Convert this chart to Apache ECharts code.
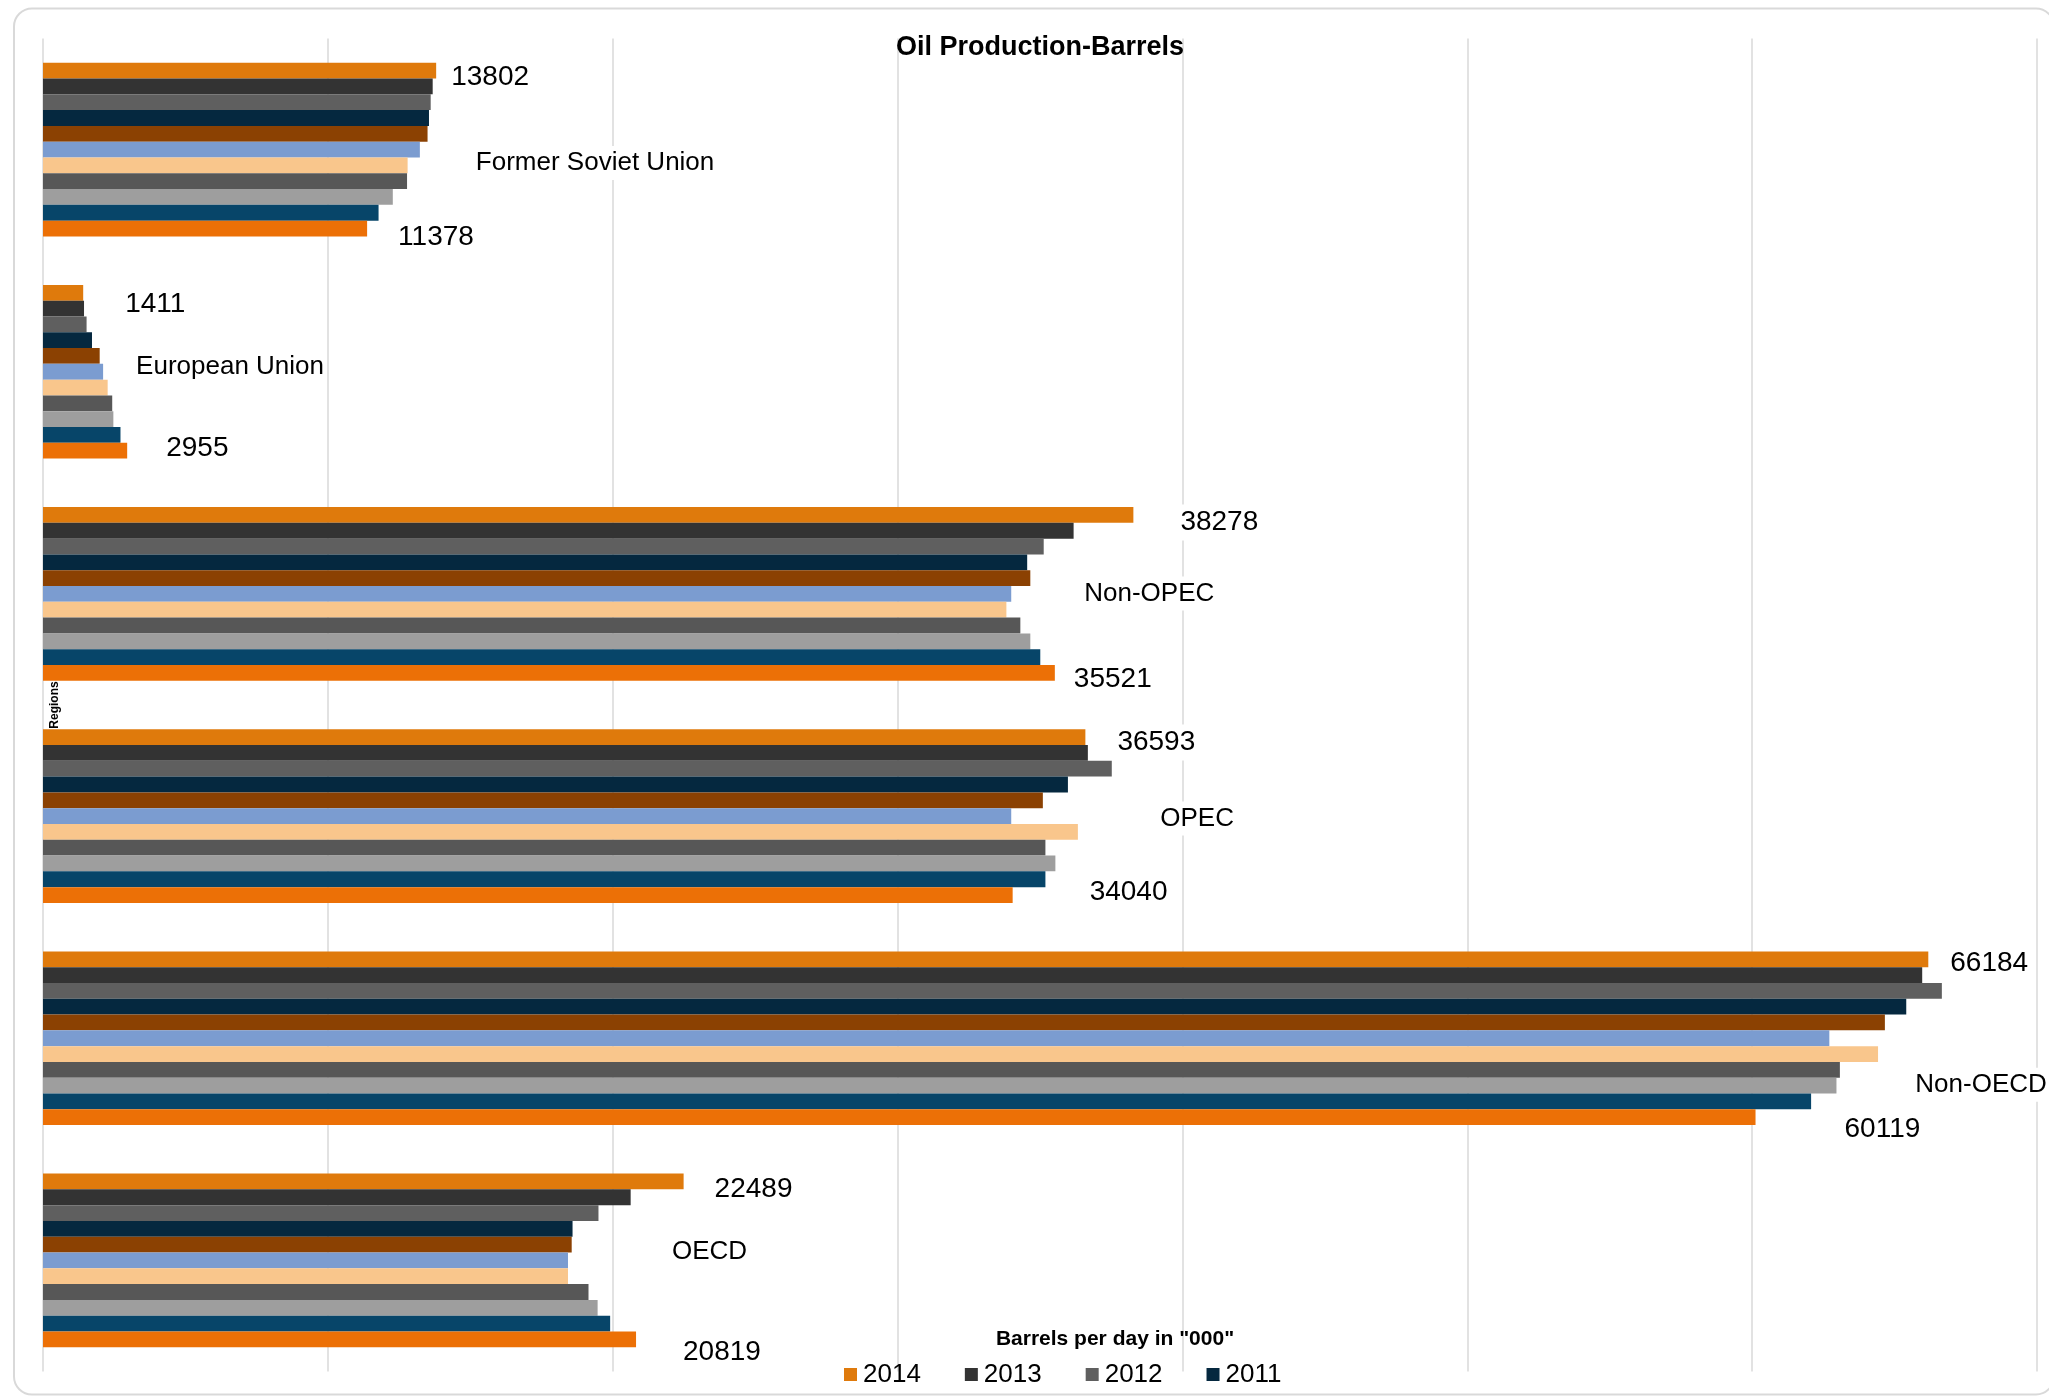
<!DOCTYPE html>
<html>
<head>
<meta charset="utf-8">
<script src="https://cdn.jsdelivr.net/npm/echarts@6/dist/echarts.min.js"></script>
<style>
html,body{margin:0;padding:0;background:#ffffff;}
#chart{width:2049px;height:1396px;}
</style>
</head>
<body>
<div id="chart"></div>
<script>
// ---- data (thousand barrels per day) ----
const categories = ['Former Soviet Union', 'European Union', 'Non-OPEC', 'OPEC', 'Non-OECD', 'OECD'];
const years = ['2014', '2013', '2012', '2011', '2010', '2009', '2008', '2007', '2006', '2005', '2004'];
const legendYears = ['2014', '2013', '2012', '2011'];
const v2014 = [13802, 1411, 38278, 36593, 66184, 22489];
const v2013 = [13680, 1440, 36180, 36680, 65970, 20630];
const v2012 = [13610, 1530, 35130, 37520, 66660, 19500];
const v2011 = [13550, 1720, 34550, 35980, 65410, 18590];
const v2010 = [13500, 1990, 34660, 35100, 64660, 18560];
const v2009 = [13230, 2110, 33990, 33990, 62710, 18430];
const v2008 = [12800, 2270, 33820, 36330, 64420, 18430];
const v2007 = [12780, 2430, 34310, 35190, 63080, 19150];
const v2006 = [12280, 2470, 34660, 35540, 62960, 19470];
const v2005 = [11780, 2720, 35010, 35190, 62070, 19910];
const v2004 = [11378, 2955, 35521, 34040, 60119, 20819];
const seriesValues = [v2014, v2013, v2012, v2011, v2010, v2009, v2008, v2007, v2006, v2005, v2004];

// ---- styles ----
const colors = ['#DF7A0C', '#333333', '#5F5F5F', '#05283F', '#8B4102', '#7B9CD0',
                '#F9C68C', '#575757', '#9E9E9E', '#074569', '#EC7006'];
const FONT = '"Liberation Sans", Arial, sans-serif';
// label offsets [dx, dy] per category (style/placement only)
const topLabelOffset    = [[12, 6.5], [39, 11.5], [44, 7.5], [29, 5.5], [19, 4.5], [28, 7.5]];
const bottomLabelOffset = [[28, 8.5], [36, -2.5], [16, 6.5], [74, -2.5], [86, 12.5], [44, 12.5]];
const nameLabelOffset   = [[53, 13.5], [30, -4.5], [70, -0.5], [146, 2.5], [83, 46.5], [101, -8.5]];

const numLabel = {
  show: true, position: 'right', distance: 0, formatter: '{c}',
  color: '#000', fontFamily: FONT, fontSize: 28,
  backgroundColor: '#ffffff', padding: [4, 3]
};
const nameLabel = {
  show: true, position: 'right', distance: 0, formatter: '{b}',
  color: '#000', fontFamily: FONT, fontSize: 26,
  backgroundColor: '#ffffff', padding: [4, 3]
};

const series = years.map((yr, k) => {
  const vals = seriesValues[k];
  let data;
  if (k === 0) {
    data = vals.map((v, i) => ({ value: v, label: Object.assign({}, numLabel, { offset: topLabelOffset[i] }) }));
  } else if (k === years.length - 1) {
    data = vals.map((v, i) => ({ value: v, label: Object.assign({}, numLabel, { offset: bottomLabelOffset[i] }) }));
  } else if (yr === '2009') {
    data = vals.map((v, i) => ({ value: v, label: Object.assign({}, nameLabel, { offset: nameLabelOffset[i] }) }));
  } else {
    data = vals.slice();
  }
  return {
    name: yr,
    type: 'bar',
    data: data,
    barGap: '0%',
    barCategoryGap: '21.8%',
    itemStyle: { color: colors[k] },
    emphasis: { disabled: true },
    z: 2
  };
});

const chart = echarts.init(document.getElementById('chart'), null, { renderer: 'canvas' });
chart.setOption({
  animation: false,
  backgroundColor: '#ffffff',
  title: {
    text: 'Oil Production-Barrels',
    left: 1040, top: 34, textAlign: 'center', padding: 0,
    textStyle: { fontFamily: FONT, fontSize: 27, fontWeight: 'bold', color: '#000' }
  },
  legend: {
    data: legendYears,
    left: 844, top: 1361.5,
    icon: 'rect', itemWidth: 13, itemHeight: 13, itemGap: 44,
    padding: 0,
    textStyle: { fontFamily: FONT, fontSize: 26, color: '#000', padding: [0, 0, 0, 1] }
  },
  grid: { left: 43, right: 12, top: 38.5, bottom: 24.5, containLabel: false, outerBoundsMode: 'none' },
  xAxis: {
    type: 'value', min: 0, max: 70000, interval: 10000,
    axisLabel: { show: false }, axisTick: { show: false }, axisLine: { show: false },
    splitLine: { show: true, lineStyle: { color: '#d9d9d9', width: 1.5 } },
    name: 'Barrels per day in "000"',
    nameLocation: 'middle', nameGap: -43,
    nameTextStyle: { fontFamily: FONT, fontSize: 21, fontWeight: 'bold', color: '#000', padding: [0, 0, 0, 150] }
  },
  yAxis: {
    type: 'category', data: categories, inverse: true,
    axisLabel: { show: false }, axisTick: { show: false }, axisLine: { show: false },
    splitLine: { show: false },
    name: 'Regions', nameLocation: 'middle', nameGap: -18, nameRotate: 90,
    nameTextStyle: { fontFamily: FONT, fontSize: 12, fontWeight: 'bold', color: '#000' }
  },
  graphic: [{
    type: 'rect', silent: true, z: -10,
    shape: { x: 14, y: 8.5, width: 2040, height: 1386, r: 18 },
    style: { fill: null, stroke: '#d9d9d9', lineWidth: 2 }
  }],
  series: series
});
</script>
</body>
</html>
